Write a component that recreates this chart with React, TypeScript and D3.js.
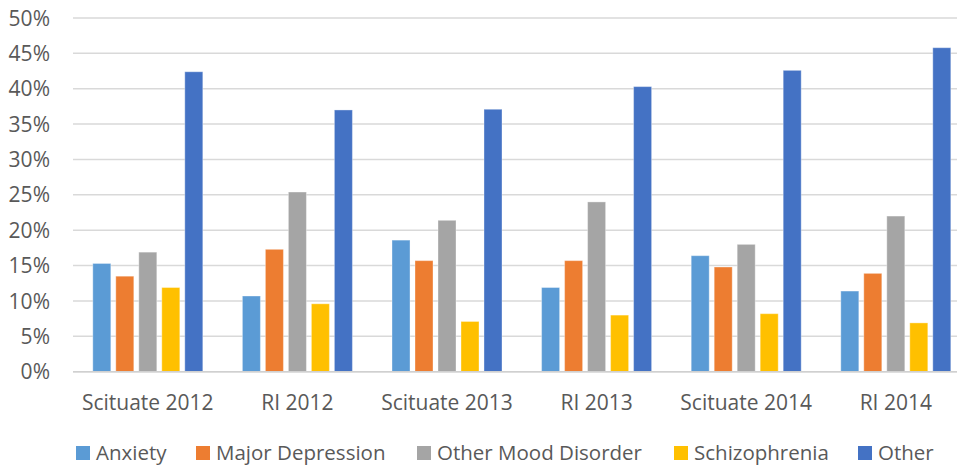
import React from "react";
import * as d3 from "d3";

const categories = ["Scituate 2012", "RI 2012", "Scituate 2013", "RI 2013", "Scituate 2014", "RI 2014"];
const seriesNames = ["Anxiety", "Major Depression", "Other Mood Disorder", "Schizophrenia", "Other"];
const seriesColors = ["#5B9BD5", "#ED7D31", "#A5A5A5", "#FFC000", "#4472C4"];
const anxiety = [15.3, 10.7, 18.6, 11.9, 16.4, 11.4];
const majorDepression = [13.5, 17.3, 15.7, 15.7, 14.8, 13.9];
const otherMood = [16.9, 25.4, 21.4, 24.0, 18.0, 22.0];
const schizophrenia = [11.9, 9.6, 7.1, 8.0, 8.2, 6.9];
const other = [42.4, 37.0, 37.1, 40.3, 42.6, 45.8];
const yTicks = [0, 5, 10, 15, 20, 25, 30, 35, 40, 45, 50];
const legendX = [76, 196, 417, 674, 858];

const seriesValues = [anxiety, majorDepression, otherMood, schizophrenia, other];

const W = 957;
const H = 465;
const FONT = "'Open Sans', 'Noto Sans', sans-serif";
const TEXT = "#595959";

export default function App() {
  const x = d3.scaleBand<string>().domain(categories).range([73, 73 + 6 * 149.6]).padding(0);
  const inner = d3
    .scaleBand<string>()
    .domain(seriesNames)
    .range([19.8, 129.8])
    .paddingInner(0.217)
    .paddingOuter(0);
  const y = d3.scaleLinear().domain([0, 50]).range([371.7, 18]);

  return (
    <svg width={W} height={H} style={{ position: "absolute", left: 0, top: 0, background: "#fff" }}>
      <rect width={W} height={H} fill="#fff" />
      {yTicks.map((t) => (
        <g key={t}>
          <line x1={73} x2={W} y1={y(t)} y2={y(t)} stroke="#d9d9d9" strokeWidth={1.5} />
          <text x={50} y={y(t)} dy="0.36em" textAnchor="end" fontFamily={FONT} fontSize={21} fill={TEXT}>
            {t}%
          </text>
        </g>
      ))}
      {categories.map((c, ci) => (
        <g key={c}>
          {seriesNames.map((s, si) => {
            const v = seriesValues[si][ci];
            const bx = (x(c) as number) + (inner(s) as number);
            return (
              <rect
                key={s}
                x={bx}
                y={y(v)}
                width={inner.bandwidth()}
                height={y(0) - y(v)}
                fill={seriesColors[si]}
                stroke="#ffffff"
                strokeOpacity={0.35}
                strokeWidth={1}
              />
            );
          })}
          <text
            x={(x(c) as number) + x.bandwidth() / 2}
            y={402}
            dy="0.36em"
            textAnchor="middle"
            fontFamily={FONT}
            fontSize={21}
            fill={TEXT}
          >
            {c}
          </text>
        </g>
      ))}
      <line x1={73} x2={W} y1={y(0)} y2={y(0)} stroke="#d0d0d0" strokeWidth={1.5} />
      {seriesNames.map((s, i) => (
        <g key={s}>
          <rect x={legendX[i]} y={446} width={14} height={14} fill={seriesColors[i]} />
          <text x={legendX[i] + 20} y={453} dy="0.36em" fontFamily={FONT} fontSize={20.5} fill={TEXT}>
            {s}
          </text>
        </g>
      ))}
    </svg>
  );
}
